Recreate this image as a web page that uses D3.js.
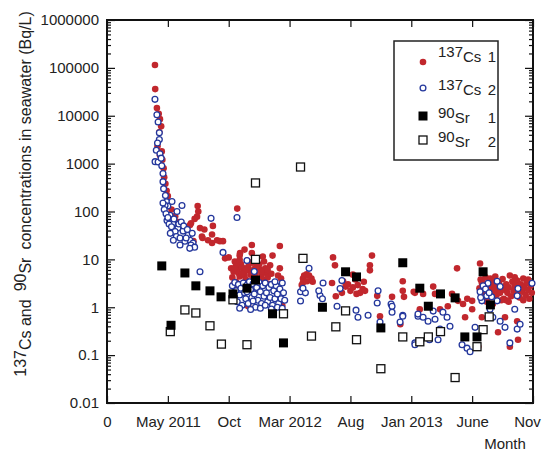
<!DOCTYPE html>
<html>
<head>
<meta charset="utf-8">
<script src="https://cdn.jsdelivr.net/npm/d3@7"></script>
<style>
body { margin: 0; background: #fff; }
svg text { font-family: "Liberation Sans", Arial, sans-serif; fill: #222; }
</style>
</head>
<body>
<div id="chart"></div>
<script>
// month index: Jan 2011 = 1
var monthTicks = [0, 5, 10, 15, 20, 25, 30, 35]
var monthLabels = ["0", "May 2011", "Oct", "Mar 2012", "Aug", "Jan 2013", "June", "Nov"]
var concTicks = [0.01, 0.1, 1, 10, 100, 1000, 10000, 100000, 1000000]

// 137Cs point 1 (Bq/L)
var cs1 = [
	[3.94,115000],[3.96,36000],[4.1,14500],[4.25,11000],[4.35,8500],[4.45,6000],[4.3,4500],[4.15,2300],[4.5,1800],[4.35,1500],
	[4.55,1200],[4.65,800],[4.7,520],[4.8,380],[4.9,270],[5.0,210],[5.1,160],
	[5.3,110],[5.6,80],[5.9,60],[6.2,48],[6.5,45],[6.82,52],[6.9,57],[7.2,70],[7.45,130],[7.5,100],[7.4,78],[7.64,45],[7.8,30],
	[7.85,28],[8.0,42],[8.3,25],[8.63,33],[8.63,22],[8.7,50],[9.04,25],[9.28,24],[9.53,24],[7.1,24],[10.7,115],
	[9.7,10.5],[10.0,11],[10.93,13.5],[11.9,20],[11.9,13.5],[11.3,16],[10.9,12],[12.8,11.5],[13.6,12],
	[10.2,6.5],[10.3,4.2],[10.4,5.5],[10.5,9.0],[10.6,7.5],[10.7,6.2],[10.8,5.2],[10.9,4.4],[11.0,8.0],[11.1,6.8],
	[11.2,5.5],[11.3,4.6],[11.4,3.8],[11.5,9.5],[11.6,7.0],[11.7,5.8],[11.8,4.8],[11.9,3.5],[12.0,8.5],[12.1,6.3],
	[12.2,5.0],[12.3,4.0],[12.4,3.2],[12.5,7.8],[12.6,6.0],[12.7,4.7],[12.8,3.8],[12.9,9.0],[13.0,6.5],[13.1,5.2],
	[13.2,4.2],[13.3,3.0],[13.4,7.5],[13.5,5.0],[10.6,3.4],[11.0,2.9],[11.5,2.7],[12.2,2.6],[11.6,1.05],
	[10.4,3.0],[10.8,2.6],[11.2,3.2],[11.7,3.0],[12.0,4.3],[12.5,2.9],[12.9,3.5],[11.4,6.0],[11.8,8.6],[12.3,7.0],
	[10.9,9.8],[11.1,5.0],[10.5,6.5],[12.7,5.5],[13.2,6.0],
	[14.2,19],[14.2,6.5],[14.05,4.6],[14.3,4.0],[14.4,1.1],[16.0,11],[16.1,4.0],[16.2,4.6],[16.4,4.9],[16.6,4.6],
	[16.8,4.0],[16.9,3.4],[16.1,3.3],[16.0,2.9],[16.43,3.5],
	[18.57,11],[18.73,7.5],[18.49,3.2],[18.8,1.7],[19.3,2.0],[19.4,3.5],[19.6,2.7],[19.8,3.0],[20.0,2.2],[20.2,2.6],
	[20.2,4.8],[20.4,3.8],[20.5,1.9],[20.6,2.9],[20.8,2.0],[21.0,2.4],[21.1,3.4],[21.2,2.2],
	[21.77,12],[21.6,7.5],[21.6,5.9],[22.2,1.73],[22.43,0.65],[23.42,1.65],
	[24.3,3.5],[24.3,2.2],[24.4,1.65],[24.1,0.44],[25.2,2.1],[25.3,2.0],[25.97,1.9],[25.7,0.91],[26.8,2.7],[26.95,1.9],
	[27.36,0.91],[28.0,1.05],[28.35,1.9],[28.76,6.5],[28.84,1.36],[29.25,1.17],[29.42,0.62],[29.6,1.5],[30.0,0.91],[30.0,1.36],
	[30.65,8.2],[30.8,3.5],[30.5,0.15],[33.1,0.15],[33.77,0.21],[33.7,0.51],[32.13,0.30],[32.7,0.62],[30.8,0.62],[31.7,1.17],[31.06,1.65],
	[30.6,2.5],[30.7,3.8],[30.9,1.9],[31.0,2.8],[31.1,4.2],[31.2,2.2],[31.3,3.1],[31.4,1.6],[31.5,2.6],[31.6,3.6],
	[31.7,2.0],[31.8,2.9],[31.9,4.4],[32.0,1.8],[32.1,2.4],[32.2,3.3],[32.3,2.0],[32.4,2.7],[32.5,3.9],[32.6,1.5],
	[32.7,2.3],[32.8,3.0],[32.9,2.0],[33.0,2.6],[33.1,4.6],[33.2,1.7],[33.3,3.4],[33.4,2.2],[33.5,2.8],[33.6,1.9],
	[33.7,3.6],[33.8,2.4],[33.9,1.6],[34.0,3.0],[34.1,2.1],[34.2,4.0],[34.3,2.6],[34.4,1.8],[34.5,3.2],[34.6,2.3],
	[34.7,1.5],[34.8,2.8],[34.9,2.0],[31.2,1.3],[32.0,3.2],[32.8,1.4],[33.5,4.2],[34.2,1.4],[30.8,3.2],[31.5,4.0],
	[33.0,1.3],[34.6,3.8],[32.4,1.4],[33.9,2.9],[31.9,2.5]
]

// 137Cs point 2 (Bq/L)
var cs2 = [
	[3.94,22000],[4.1,10500],[4.2,7400],[4.3,4400],[4.3,3200],[4.15,2700],[4.05,1900],[3.95,1100],[4.2,1080],[4.5,900],
	[4.6,620],[4.6,420],[4.65,300],[4.8,215],[4.9,160],[5.0,130],[4.35,1600],[4.45,1300],
	[4.77,133],[5.34,162],[6.16,133],[5.75,100],[5.18,83],[4.93,65],[5.4,57],[5.83,45],[6.25,39],[6.66,32],[6.82,25],[6.4,24],
	[7.07,22],[4.6,150],[4.7,110],[4.85,90],[5.0,75],[5.1,55],[5.3,48],[5.5,70],[5.6,38],[5.7,30],
	[5.9,55],[6.0,28],[6.1,60],[6.3,50],[6.5,28],[6.6,42],[6.9,20],[7.0,35],[7.2,18],[5.2,35],
	[5.45,25],[6.0,20],[6.8,17],[8.55,72],[10.68,75],[9.53,14],[7.64,5.5],
	[10.3,2.8],[10.4,1.6],[10.5,3.3],[10.6,2.2],[10.7,1.3],[10.8,3.0],[10.9,1.8],[11.0,2.5],[11.1,1.1],[11.2,3.2],
	[11.3,2.0],[11.4,1.5],[11.5,2.9],[11.6,1.2],[11.7,3.4],[11.8,2.3],[11.9,1.6],[12.0,3.1],[12.1,1.9],[12.2,1.0],
	[12.3,2.6],[12.4,1.4],[12.5,3.3],[12.6,2.1],[12.7,1.2],[12.8,2.8],[12.9,1.7],[13.0,3.2],[13.1,2.0],[13.2,1.3],
	[13.3,2.6],[13.4,1.6],[13.5,3.0],[13.6,1.1],[13.7,2.2],[13.8,1.5],[13.9,2.8],[14.0,1.9],[14.1,1.2],[14.2,2.4],
	[14.3,1.5],[14.4,3.2],[14.5,2.0],[14.6,1.4],[10.9,0.95],
	[11.8,0.9],[12.6,0.95],[13.5,0.92],[14.0,1.0],[10.4,2.0],[11.5,2.1],[12.0,1.35],[13.0,1.1],[13.8,3.4],[14.4,0.95],
	[11.5,9.5],[12.1,5.6],
	[15.9,2.1],[16.3,2.0],[15.9,1.35],[16.6,6.5],[16.1,2.5],[17.75,3.2],[17.5,1.75],[17.4,2.2],[17.7,1.5],
	[18.9,1.05],[19.3,3.6],[19.15,2.45],[20.46,0.87],[20.62,0.62],[21.45,0.68],[22.27,2.2],[22.2,1.23],[23.34,1.17],[23.42,0.79],
	[24.08,0.49],[24.3,0.68],[25.3,0.18],[25.55,0.65],[22.43,0.49],
	[23.42,1.05],[24.3,0.65],[25.55,0.72],[25.97,0.62],[26.38,0.51],[26.8,0.83],[26.95,0.56],[27.2,0.21],[27.36,0.35],[27.6,0.79],
	[27.94,0.62],[28.18,0.40],[25.3,0.165],[26.5,0.21],[29.17,0.165],[29.58,0.14],[29.83,0.118],[30.24,0.38],[30.65,2.1],[30.8,1.36],
	[31.2,1.73],[31.6,1.65],[32.05,1.36],[31.47,0.91],[31.7,0.62],[32.3,0.51],[32.7,0.38],[33.1,0.18],[33.7,0.35],[33.94,0.44],
	[33.5,0.91],[33.77,2.45],[33.7,1.73],[34.92,3.16],[32.05,3.5],[32.3,2.7],[31.3,3.16],[30.9,2.8],[31.1,2.4],[31.4,2.0],[30.7,1.6]
]

// 90Sr point 1 (Bq/L)
var sr1 = [
	[4.5,7.3],[5.26,0.42],[6.4,5.2],[7.3,2.8],[8.46,2.2],[9.37,1.65],[10.35,1.9],[11.5,2.5],[12.2,3.7],[13.6,0.73],
	[14.5,0.18],[17.7,1.0],[19.6,5.5],[20.5,4.3],[22.5,0.37],[24.3,8.5],[25.7,2.5],[26.4,1.05],[27.4,1.9],[28.6,1.57],
	[29.4,0.24],[30.4,0.24],[30.9,5.5],[31.5,1.12]
]

// 90Sr point 2 (Bq/L)
var sr2 = [
	[5.2,0.31],[6.4,0.88],[7.3,0.76],[8.46,0.41],[9.4,0.17],[10.35,1.43],[11.5,0.165],[12.2,395],[12.2,10],[14.5,0.73],
	[15.9,850],[16.1,10.5],[16.8,0.25],[18.8,0.39],[19.6,0.84],[20.5,0.21],[22.5,0.052],[24.3,0.24],[25.7,0.19],[26.4,0.24],
	[27.4,0.31],[28.6,0.034],[30.4,0.15],[30.9,0.34],[31.4,0.63]
]

var red = "#c1272d", blue = "#24379c"

var margin = {top: 20, right: 11, bottom: 49, left: 107},
    width = 544 - margin.left - margin.right,
    height = 452 - margin.top - margin.bottom

var svg = d3.select("#chart")
	.append("svg")
	.attr("width", 544)
	.attr("height", 452)

var g = svg.append("g")
	.attr("transform", "translate(" + margin.left + "," + margin.top + ")")

var x = d3.scaleLinear().domain([0, 35]).range([0, width])
var y = d3.scaleLog().domain([0.01, 1000000]).range([height, 0])

// minor log ticks 2..9 in each decade
var minorTicks = []
concTicks.slice(0, -1).forEach(function (d) {
	for (var k = 2; k < 10; k++) minorTicks.push(d * k) })

function styleAxis (sel) {
	sel.select(".domain").remove()
	sel.selectAll(".tick line").attr("stroke", "#111").attr("stroke-width", 1.2)
	sel.selectAll("text").attr("font-size", 15).attr("font-family", null)
}

g.append("g")
	.attr("transform", "translate(0," + height + ")")
	.call(d3.axisBottom(x).tickValues(monthTicks).tickFormat(function (d, i) { return monthLabels[i] })
		.tickSizeInner(-7).tickSizeOuter(0).tickPadding(13))
	.call(styleAxis)
	.call(function (s) { s.selectAll(".tick text").filter(function (d) { return d === 35 }).attr("dx", -6) })

g.append("g")
	.call(d3.axisTop(x).tickValues(monthTicks).tickFormat("").tickSizeInner(-7).tickSizeOuter(0))
	.call(styleAxis)

g.append("g")
	.call(d3.axisLeft(y).tickValues(concTicks).tickFormat(function (d) { return String(d) })
		.tickSizeInner(-8).tickSizeOuter(0).tickPadding(8))
	.call(styleAxis)

g.append("g")
	.call(d3.axisLeft(y).tickValues(minorTicks).tickFormat("").tickSizeInner(-4).tickSizeOuter(0))
	.call(styleAxis)

g.append("g")
	.attr("transform", "translate(" + width + ",0)")
	.call(d3.axisRight(y).tickValues(concTicks).tickFormat("").tickSizeInner(-8).tickSizeOuter(0))
	.call(styleAxis)

g.append("g")
	.attr("transform", "translate(" + width + ",0)")
	.call(d3.axisRight(y).tickValues(minorTicks).tickFormat("").tickSizeInner(-4).tickSizeOuter(0))
	.call(styleAxis)

g.append("rect")
	.attr("width", width)
	.attr("height", height)
	.attr("fill", "none")
	.attr("stroke", "#111")
	.attr("stroke-width", 2)

// data points
g.append("g").selectAll("circle")
	.data(cs1).enter().append("circle")
	.attr("cx", d => x(d[0])).attr("cy", d => y(d[1]))
	.attr("r", 3.3).attr("fill", red)

g.append("g").selectAll("circle")
	.data(cs2).enter().append("circle")
	.attr("cx", d => x(d[0])).attr("cy", d => y(d[1]))
	.attr("r", 2.9).attr("fill", "#fff").attr("stroke", blue).attr("stroke-width", 1.3)

g.append("g").selectAll("rect")
	.data(sr2).enter().append("rect")
	.attr("x", d => x(d[0]) - 4).attr("y", d => y(d[1]) - 4)
	.attr("width", 8).attr("height", 8)
	.attr("fill", "#fff").attr("stroke", "#111").attr("stroke-width", 1.3)

g.append("g").selectAll("rect")
	.data(sr1).enter().append("rect")
	.attr("x", d => x(d[0]) - 4.5).attr("y", d => y(d[1]) - 4.5)
	.attr("width", 9).attr("height", 9)
	.attr("fill", "#000")

// axis titles
var yt = svg.append("text")
	.attr("transform", "translate(31,194) rotate(-90)")
	.attr("text-anchor", "middle")
	.attr("font-size", 16)
yt.append("tspan").attr("dy", -5).text("137")
yt.append("tspan").attr("dy", 5).text("Cs and")
yt.append("tspan").attr("dy", -5).attr("dx", 8).text("90")
yt.append("tspan").attr("dy", 5).text("Sr")
yt.append("tspan").attr("dx", 8).text("concentrations in seawater (Bq/L)")

svg.append("text")
	.attr("x", 505).attr("y", 449)
	.attr("text-anchor", "middle")
	.attr("font-size", 15)
	.text("Month")

// legend
var lg = svg.append("g")
lg.append("rect")
	.attr("x", 394).attr("y", 41).attr("width", 104).attr("height", 119)
	.attr("fill", "#fff").attr("stroke", "#222").attr("stroke-width", 1.5)

lg.append("circle").attr("cx", 423).attr("cy", 62).attr("r", 3.3).attr("fill", red)
lg.append("circle").attr("cx", 423).attr("cy", 88).attr("r", 2.9)
	.attr("fill", "#fff").attr("stroke", blue).attr("stroke-width", 1.3)
lg.append("rect").attr("x", 418.5).attr("y", 111.5).attr("width", 9).attr("height", 9).attr("fill", "#000")
lg.append("rect").attr("x", 419).attr("y", 136).attr("width", 8).attr("height", 8)
	.attr("fill", "#fff").attr("stroke", "#111").attr("stroke-width", 1.3)

function legendLabel (yy, iso, el, num) {
	var t = lg.append("text").attr("x", 438).attr("y", yy).attr("font-size", 15)
	t.append("tspan").attr("dy", -5).text(iso)
	t.append("tspan").attr("dy", 5).text(el)
	lg.append("text").attr("x", 496).attr("y", yy).attr("text-anchor", "end")
		.attr("font-size", 15).text(num)
}
legendLabel(62, "137", "Cs", "1")
legendLabel(95, "137", "Cs", "2")
legendLabel(123, "90", "Sr", "1")
legendLabel(147, "90", "Sr", "2")
</script>
</body>
</html>
